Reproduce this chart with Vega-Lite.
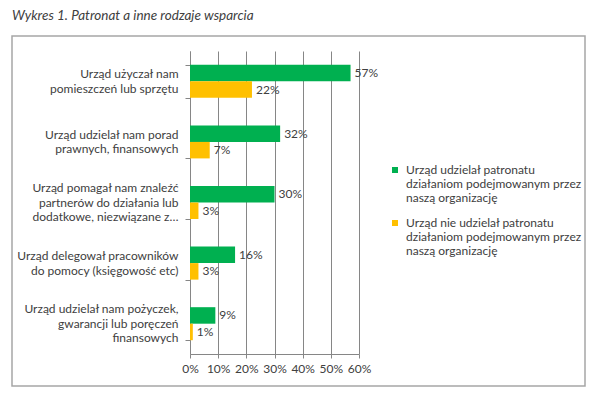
{
  "$schema": "https://vega.github.io/schema/vega-lite/v6.json",
  "width": 573,
  "height": 350,
  "autosize": "none",
  "padding": {"left": 12, "top": 36, "right": 15, "bottom": 23},
  "background": "white",
  "title": {
    "text": "Wykres 1. Patronat a inne rodzaje wsparcia",
    "anchor": "start",
    "frame": "group",
    "font": "Lato",
    "fontStyle": "italic",
    "fontWeight": "normal",
    "fontSize": 13.5,
    "color": "#404040",
    "baseline": "alphabetic",
    "offset": -3
  },
  "config": {
    "font": "Lato",
    "view": {"stroke": "#a6a6a6", "strokeWidth": 1.5},
    "axis": {"labelColor": "#404040", "labelFont": "Lato", "labelFontSize": 12, "domainColor": "#868686", "tickColor": "#868686", "gridColor": "#868686", "gridOpacity": 1}
  },
  "data": {
    "values": [
      {"category": "Urząd użyczał nam\npomieszczeń lub sprzętu", "series": "Urząd udzielał patronatu działaniom podejmowanym przez naszą organizację", "value": 0.57},
      {"category": "Urząd użyczał nam\npomieszczeń lub sprzętu", "series": "Urząd nie udzielał patronatu działaniom podejmowanym przez naszą organizację", "value": 0.22},
      {"category": "Urząd udzielał nam porad\nprawnych, finansowych", "series": "Urząd udzielał patronatu działaniom podejmowanym przez naszą organizację", "value": 0.32},
      {"category": "Urząd udzielał nam porad\nprawnych, finansowych", "series": "Urząd nie udzielał patronatu działaniom podejmowanym przez naszą organizację", "value": 0.07},
      {"category": "Urząd pomagał nam znaleźć\npartnerów do działania lub\ndodatkowe, niezwiązane z…", "series": "Urząd udzielał patronatu działaniom podejmowanym przez naszą organizację", "value": 0.30},
      {"category": "Urząd pomagał nam znaleźć\npartnerów do działania lub\ndodatkowe, niezwiązane z…", "series": "Urząd nie udzielał patronatu działaniom podejmowanym przez naszą organizację", "value": 0.03},
      {"category": "Urząd delegował pracowników\ndo pomocy (księgowość etc)", "series": "Urząd udzielał patronatu działaniom podejmowanym przez naszą organizację", "value": 0.16},
      {"category": "Urząd delegował pracowników\ndo pomocy (księgowość etc)", "series": "Urząd nie udzielał patronatu działaniom podejmowanym przez naszą organizację", "value": 0.03},
      {"category": "Urząd udzielał nam pożyczek,\ngwarancji lub poręczeń\nfinansowych", "series": "Urząd udzielał patronatu działaniom podejmowanym przez naszą organizację", "value": 0.09},
      {"category": "Urząd udzielał nam pożyczek,\ngwarancji lub poręczeń\nfinansowych", "series": "Urząd nie udzielał patronatu działaniom podejmowanym przez naszą organizację", "value": 0.01}
    ]
  },
  "encoding": {
    "y": {
      "field": "category",
      "type": "nominal",
      "sort": null,
      "scale": {"range": [15, 318], "paddingInner": 0.455, "paddingOuter": 0.2275},
      "axis": {
        "title": null,
        "orient": "left",
        "offset": -178,
        "tickBand": "extent",
        "tickSize": 5,
        "labelPadding": 7,
        "labelAlign": "right",
        "labelBaseline": "middle",
        "labelLineHeight": 14.5,
        "labelLimit": 0,
        "labelOffset": {"expr": "(1 - length(split(datum.label, '\\n'))) * 7.5"},
        "labelExpr": "split(datum.label, '\\n')"
      }
    },
    "yOffset": {
      "field": "series",
      "type": "nominal",
      "sort": ["Urząd udzielał patronatu działaniom podejmowanym przez naszą organizację", "Urząd nie udzielał patronatu działaniom podejmowanym przez naszą organizację"],
      "scale": {"paddingInner": 0, "paddingOuter": 0}
    }
  },
  "layer": [
    {
      "mark": {"type": "bar"},
      "encoding": {
        "x": {
          "field": "value",
          "type": "quantitative",
          "scale": {"domain": [0, 0.6], "range": [178, 347], "nice": false, "zero": true},
          "axis": {"orient": "top", "grid": true, "labels": false, "ticks": false, "domain": false, "title": null, "values": [0, 0.1, 0.2, 0.3, 0.4, 0.5, 0.6]}
        },
        "color": {
          "field": "series",
          "type": "nominal",
          "sort": ["Urząd udzielał patronatu działaniom podejmowanym przez naszą organizację", "Urząd nie udzielał patronatu działaniom podejmowanym przez naszą organizację"],
          "scale": {"range": ["#00b050", "#ffc000"]},
          "legend": {
            "title": null,
            "orient": "none",
            "legendX": 377,
            "legendY": 132,
            "symbolType": "M-1,-2.33H1V-0.33H-1Z",
            "symbolSize": 36,
            "symbolStrokeWidth": 0,
            "labelFont": "Lato",
            "labelFontSize": 12,
            "labelColor": "#404040",
            "labelBaseline": "alphabetic",
            "labelLineHeight": 14.5,
            "labelOffset": 5,
            "labelLimit": 0,
            "rowPadding": 13,
            "labelExpr": "split(replace(replace(datum.label, ' działaniom', '|działaniom'), ' naszą', '|naszą'), '|')"
          }
        }
      }
    },
    {
      "mark": {"type": "text", "align": "left", "baseline": "middle", "dx": 4, "fontSize": 12, "font": "Lato", "color": "#404040"},
      "encoding": {
        "x": {
          "field": "value",
          "type": "quantitative",
          "axis": {"orient": "bottom", "offset": -32, "grid": false, "title": null, "values": [0, 0.1, 0.2, 0.3, 0.4, 0.5, 0.6], "format": ".0%", "tickSize": 4, "labelPadding": 5, "labelFlush": false, "domain": true}
        },
        "text": {"field": "value", "type": "quantitative", "format": ".0%"}
      }
    }
  ],
  "resolve": {"axis": {"x": "independent"}}
}
